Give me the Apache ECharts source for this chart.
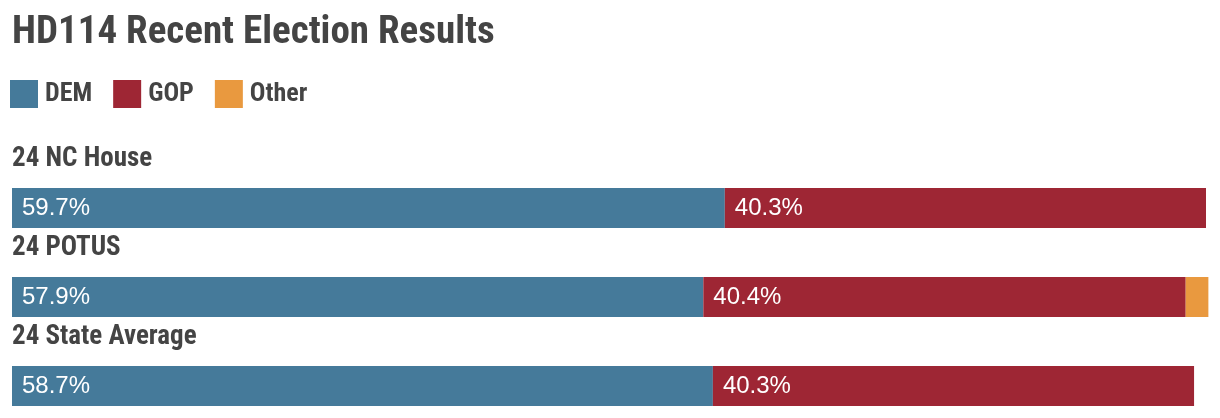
<!DOCTYPE html>
<html>
<head>
<meta charset="utf-8">
<script src="https://cdn.jsdelivr.net/npm/echarts@6/dist/echarts.min.js"></script>
<style>
html,body{margin:0;padding:0;background:#fff;}
#chart{width:1220px;height:418px;}
</style>
</head>
<body>
<div id="chart"></div>
<script>
const categories = ['24 NC House', '24 POTUS', '24 State Average'];
const demValues = [59.7, 57.9, 58.7];
const gopValues = [40.3, 40.4, 40.3];
const otherValues = [0, 1.9, 0];
const seriesNames = ['DEM', 'GOP', 'Other'];
const colors = ['#457a9a', '#9e2634', '#e9993f'];

const condensed = "'Roboto Condensed', 'Liberation Sans Narrow', 'DejaVu Sans Condensed', sans-serif";

const chart = echarts.init(document.getElementById('chart'), null, {renderer: 'canvas'});

function valueLabel(show) {
  return {
    show: show,
    position: 'insideLeft',
    distance: 10,
    color: '#fff',
    fontFamily: "'Liberation Sans', Arial, sans-serif",
    fontSize: 24,
    formatter: p => p.value ? p.value.toFixed(1) + '%' : ''
  };
}

chart.setOption({
  animation: false,
  title: {
    text: 'HD114 Recent Election Results',
    left: 7,
    top: 9,
    textStyle: {fontFamily: condensed, fontWeight: 'bold', fontSize: 39, color: '#444'}
  },
  legend: {
    data: seriesNames,
    left: 5,
    top: 75,
    icon: 'rect',
    itemWidth: 28,
    itemHeight: 28,
    itemGap: 21,
    textStyle: {fontFamily: condensed, fontWeight: 'bold', fontSize: 26, color: '#444', padding: [0, 0, 0, 2]}
  },
  grid: {left: 12, right: 14, top: 208, height: 178, containLabel: false},
  xAxis: {type: 'value', min: 0, max: 100, show: false},
  yAxis: {
    type: 'category',
    data: categories,
    inverse: true,
    boundaryGap: false,
    axisLine: {show: false},
    axisTick: {show: false},
    splitLine: {show: false},
    axisLabel: {
      inside: true,
      margin: 0,
      interval: 0,
      verticalAlign: 'bottom',
      lineHeight: 98,
      fontFamily: condensed,
      fontWeight: 'bold',
      fontSize: 27,
      color: '#444'
    }
  },
  series: [
    {name: 'DEM', type: 'bar', stack: 'v', data: demValues, barWidth: 40, clip: false, itemStyle: {color: colors[0]}, label: valueLabel(true)},
    {name: 'GOP', type: 'bar', stack: 'v', data: gopValues, barWidth: 40, clip: false, itemStyle: {color: colors[1]}, label: valueLabel(true)},
    {name: 'Other', type: 'bar', stack: 'v', data: otherValues, barWidth: 40, clip: false, itemStyle: {color: colors[2]}, label: {show: false}}
  ]
});
</script>
</body>
</html>
